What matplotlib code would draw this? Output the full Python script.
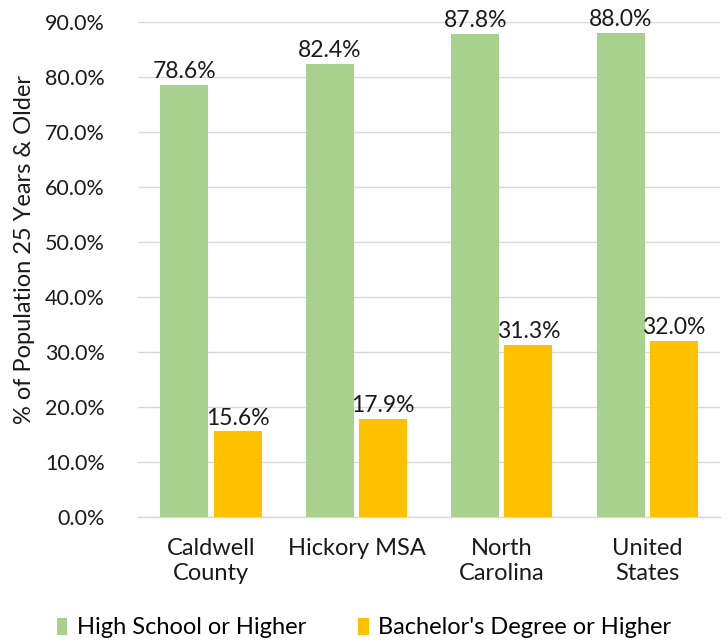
import matplotlib
matplotlib.use("Agg")
import matplotlib.pyplot as plt
import numpy as np

categories = ["Caldwell\nCounty", "Hickory MSA", "North\nCarolina", "United\nStates"]
high_school = [78.6, 82.4, 87.8, 88.0]
bachelors = [15.6, 17.9, 31.3, 32.0]
series_names = ["High School or Higher", "Bachelor's Degree or Higher"]
yticks = [0, 10, 20, 30, 40, 50, 60, 70, 80, 90]

plt.rcParams['font.family'] = ['Lato', 'DejaVu Sans']

fig = plt.figure(figsize=(7.28, 6.44), dpi=100)
ax = fig.add_axes([0.19, 0.197, 0.799, 0.769])

x = np.arange(len(categories))
w = 0.33
gap = 0.035
green = "#A9D18E"
orange = "#FFC000"
b1 = ax.bar(x - w/2 - gap/2, high_school, w, color=green, label=series_names[0], zorder=3)
b2 = ax.bar(x + w/2 + gap/2, bachelors, w, color=orange, label=series_names[1], zorder=3)

for bars, vals in ((b1, high_school), (b2, bachelors)):
    for rect, v in zip(bars, vals):
        ax.text(rect.get_x() + rect.get_width()/2, v + 0.5, f"{v:.1f}%",
                ha="center", va="bottom", fontsize=16.5, color="#1a1a1a", zorder=4)

ax.set_xlim(-0.5, len(categories) - 0.5)
ax.set_ylim(0, 90)
ax.set_yticks(yticks)
ax.set_yticklabels([f"{t:.1f}%" for t in yticks], fontsize=15.5, color="#1a1a1a")
ax.set_xticks(x)
ax.set_xticklabels(categories, fontsize=17, color="#1a1a1a", linespacing=1.25)
ax.tick_params(axis="both", length=0)
ax.tick_params(axis="x", pad=15)
ax.tick_params(axis="y", pad=24)
ax.grid(axis="y", color="#D9D9D9", linewidth=1, zorder=0)
for s in ["top", "right", "left"]:
    ax.spines[s].set_visible(False)
ax.spines["bottom"].set_color("#D9D9D9")
ax.spines["bottom"].set_linewidth(1)

ax.set_ylabel("% of Population 25 Years & Older", fontsize=17, color="#1a1a1a")
ax.yaxis.set_label_coords(-0.178, 0.54)

fig.legend(handles=[b1, b2], labels=series_names, loc="center", bbox_to_anchor=(0.5, 0.025),
           ncol=2, frameon=False, fontsize=17, handlelength=0.45, handleheight=0.75,
           handletextpad=0.4, columnspacing=2.2)

fig.savefig("out.png", dpi=100)
